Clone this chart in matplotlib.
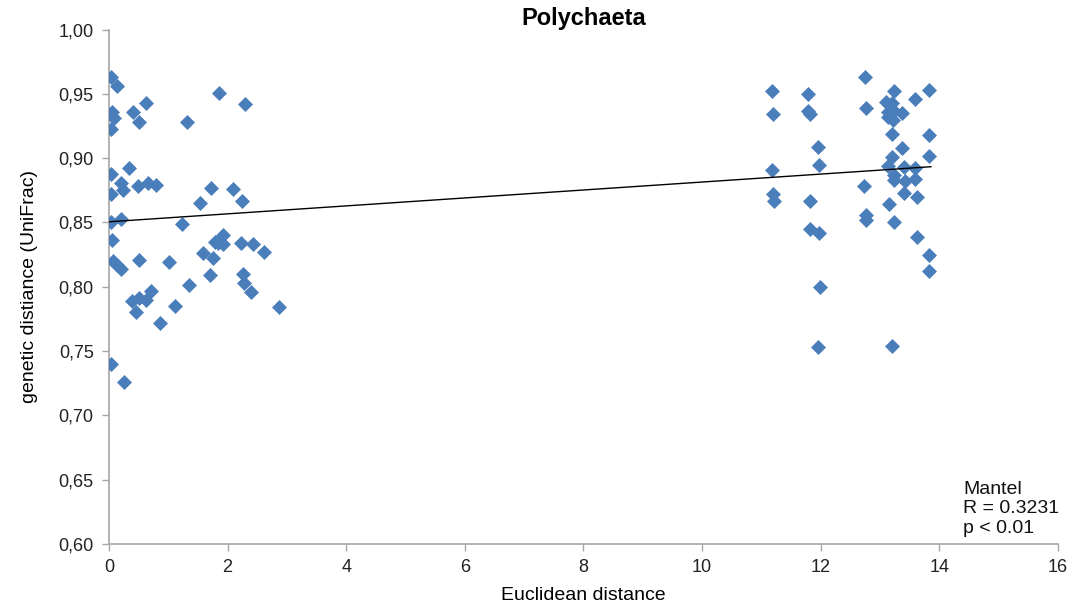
import numpy as np
import matplotlib.pyplot as plt
from matplotlib.ticker import FuncFormatter

plt.rcParams['font.family'] = ['Liberation Sans', 'DejaVu Sans']

# Пары проб: евклидово расстояние и генетическая дистанция (UniFrac)
euclid_near = [0.03, 0.13, 1.86, 2.29, 0.62, 0.41, 0.51, 1.31, 0.05, 0.08, 0.03,
               0.03, 0.34, 0.21, 0.24, 0.03, 0.49, 0.66, 0.80, 1.53, 1.72, 2.09,
               2.24, 0.03, 0.20, 1.23,
               0.05, 0.06, 0.13, 0.20, 0.51, 1.01, 1.59, 1.76, 1.79, 1.93, 1.92,
               1.84, 2.22, 2.42, 2.61, 2.26, 1.70, 2.28, 2.39, 1.35, 0.38, 0.51,
               0.62, 0.70, 0.46, 0.86, 1.11, 2.86, 0.03, 0.25]
unifrac_near = [0.963, 0.956, 0.951, 0.942, 0.943, 0.936, 0.928, 0.928, 0.936, 0.931, 0.923,
                0.888, 0.892, 0.881, 0.875, 0.872, 0.878, 0.881, 0.879, 0.865, 0.877, 0.876,
                0.867, 0.850, 0.853, 0.849,
                0.836, 0.820, 0.817, 0.814, 0.821, 0.819, 0.826, 0.822, 0.835, 0.840, 0.833,
                0.834, 0.834, 0.833, 0.827, 0.810, 0.809, 0.803, 0.796, 0.801, 0.789, 0.791,
                0.790, 0.797, 0.780, 0.772, 0.785, 0.784, 0.740, 0.726]

euclid_far = [11.18, 11.19, 11.79, 11.79, 11.82, 12.75, 12.76, 13.23, 13.82, 13.59,
              13.11, 13.20, 13.14, 13.24, 13.38, 13.14, 13.22, 13.20, 13.83, 13.38,
              11.95, 11.97, 13.82, 13.21, 11.18, 13.14, 13.40, 13.59, 13.23, 13.23,
              13.42, 13.59, 12.74, 13.41, 13.62, 11.20, 11.21, 11.82, 13.16, 12.76,
              12.77, 13.24, 11.82, 11.98, 13.62, 13.83, 13.83, 11.99, 11.95, 13.20]
unifrac_far = [0.952, 0.934, 0.950, 0.937, 0.934, 0.963, 0.939, 0.952, 0.953, 0.946,
               0.944, 0.943, 0.936, 0.937, 0.935, 0.932, 0.930, 0.919, 0.918, 0.908,
               0.909, 0.895, 0.902, 0.901, 0.891, 0.894, 0.893, 0.892, 0.887, 0.883,
               0.882, 0.884, 0.878, 0.873, 0.870, 0.872, 0.867, 0.867, 0.864, 0.856,
               0.852, 0.850, 0.845, 0.842, 0.839, 0.825, 0.812, 0.800, 0.753, 0.754]

# Линия тренда (как в Excel)
trend_intercept = 0.8505
trend_slope = 0.00309
trend_end = 13.86

x = np.array(euclid_near + euclid_far)
y = np.array(unifrac_near + unifrac_far)

fig = plt.figure(figsize=(10.75, 6.11), dpi=100)
ax = fig.add_axes([0.1014, 0.1097, 0.8826, 0.842])

ax.plot(x, y, linestyle='none', marker='D', markersize=7.4,
        markerfacecolor='#4A7EBB', markeredgecolor='#4A7EBB', markeredgewidth=0.5,
        zorder=3)

xs = np.array([0, trend_end])
ax.plot(xs, trend_intercept + trend_slope * xs, color='black', linewidth=1.0, zorder=4)

ax.set_xlim(0, 16)
ax.set_ylim(0.60, 1.00)
ax.set_xticks(np.arange(0, 17, 2))
ax.set_yticks(np.arange(0.60, 1.001, 0.05))
ax.yaxis.set_major_formatter(FuncFormatter(lambda v, p: f'{v:.2f}'.replace('.', ',')))

for side in ('top', 'right'):
    ax.spines[side].set_visible(False)
for side in ('left', 'bottom'):
    ax.spines[side].set_color('#A6A6A6')
    ax.spines[side].set_linewidth(1.2)
ax.tick_params(direction='out', length=5, width=1.0, color='#A6A6A6',
               labelsize=13, labelcolor='#222222', pad=6)

ax.set_title('Polychaeta', fontsize=17, fontweight='bold', pad=2)
ax.set_xlabel('Euclidean distance', fontsize=14, labelpad=8)
ax.set_ylabel('genetic distiance (UniFrac)', fontsize=14, labelpad=15)

ax.text(14.40, 0.6055, 'Mantel\nR = 0.3231\np < 0.01', fontsize=14,
        ha='left', va='bottom', linespacing=1.2, color='#111111')

fig.savefig('out.png', dpi=100)
